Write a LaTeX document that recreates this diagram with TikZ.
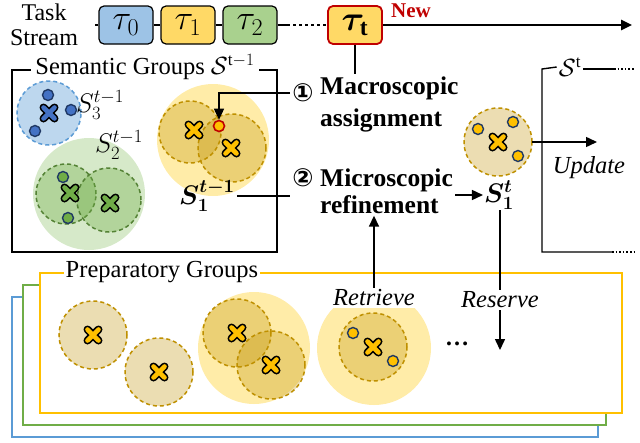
\documentclass[tikz,border=0pt]{standalone}
\usepackage{amsmath,bm,graphicx}
\usepackage{fontspec}
\setmainfont{Liberation Serif}
\newfontfamily\symfont{DejaVu Sans}
\usetikzlibrary{arrows,arrows.meta,positioning,shapes}
\definecolor{tblue}{RGB}{157,195,230}
\definecolor{tyel}{RGB}{255,217,102}
\definecolor{tgreen}{RGB}{169,209,142}
\definecolor{newred}{RGB}{192,0,0}
\definecolor{bline}{RGB}{91,155,213}
\definecolor{bpale}{RGB}{189,215,238}
\definecolor{bdark}{RGB}{68,114,196}
\definecolor{gline}{RGB}{84,130,53}
\definecolor{gmid}{RGB}{112,173,71}
\definecolor{gpale}{RGB}{214,233,201}
\definecolor{yline}{RGB}{191,144,0}
\definecolor{ygold}{RGB}{255,192,0}
\definecolor{ypale}{RGB}{255,236,168}
\definecolor{navy}{RGB}{31,56,100}
\newcommand{\tsk}[1]{\scalebox{1.4}{$#1$}}
\newcommand{\grpname}[1]{\scalebox{1.08}{$#1$}}
\tikzset{
  task/.style={draw,line width=1.2pt,rounded corners=5pt,minimum width=54pt,minimum height=38pt,inner sep=0pt,font=\fontsize{24}{24}\selectfont},
  lbl/.style={font=\fontsize{24.5}{28}\selectfont,inner sep=2pt},
  grp/.style={dash pattern=on 4pt off 3pt,line width=1.5pt},
  tip/.style={-{Triangle[length=11pt,width=10pt]}},
  smp/.style={circle,draw=navy,line width=1.4pt,inner sep=0pt,minimum size=11pt},
  pics/cent/.style={code={
    \draw[line width=8pt,line cap=round] (-5.5,-5.5)--(5.5,5.5) (-5.5,5.5)--(5.5,-5.5);
    \draw[line width=4.6pt,line cap=round,#1] (-5.5,-5.5)--(5.5,5.5) (-5.5,5.5)--(5.5,-5.5);}},
}

\begin{document}
\begin{tikzpicture}[x=1pt,y=-1pt]
	\useasboundingbox (0,0) rectangle (640,442);

	% task stream
	\node[lbl,align=center,font=\fontsize{24}{25}\selectfont] (ts) at (44,25) {Task\\Stream};
	\node[task,fill=tblue] (t0) at (126,25) {\tsk{\tau_0}};
	\node[task,fill=tyel] (t1) at (188,25) {\tsk{\tau_1}};
	\node[task,fill=tgreen] (t2) at (250,25) {\tsk{\tau_2}};
	\node[task,fill=tyel,draw=newred,line width=1.8pt] (tt) at (355,25) {\tsk{\bm{\tau}_{\mathbf{t}}}};
	\node[font=\fontsize{21}{21}\selectfont\bfseries,text=newred] (new) at (411,11) {New};
	\coordinate (sBeg) at (95,25);
	\coordinate (sEnd) at (632,25);
	\coordinate (sDot) at (287,25);
	\draw[line width=2.5pt] (sBeg) -- (t0) -- (t1) -- (t2) -- (sDot);
	\draw[line width=2.5pt,dash pattern=on 2.5pt off 3.5pt] (sDot) -- (tt.west);
	\draw[line width=2.5pt,tip] (tt.east) -- (sEnd);

	% semantic groups
	\draw[line width=1.4pt] (12,70) rectangle (277,252);
	\node[lbl,fill=white,inner xsep=4pt] (sem) at (145,67) {Semantic Groups $\mathcal{S}^{\mathrm{t}-1}$};

	\draw[grp,draw=bline,fill=bpale] (49,113) circle[radius=32pt];
	\pic at (49,113) {cent=bdark};
	\node[smp,fill=bdark] at (48,95) {};
	\node[smp,fill=bdark] at (71,110) {};
	\node[smp,fill=bdark] at (35,131) {};
	\node[lbl] (s3) at (100,105) {\grpname{S_3^{t-1}}};

	\fill[gpale] (89,194) circle[radius=56pt];
	\draw[grp,draw=gline,fill=gmid,fill opacity=.35] (66,194) circle[radius=30pt];
	\draw[grp,draw=gline,fill=gmid,fill opacity=.35] (109,200) circle[radius=32pt];
	\pic at (70,193) {cent=gmid};
	\pic at (110,203) {cent=gmid};
	\node[smp,fill=gmid] at (63,177) {};
	\node[smp,fill=gmid] at (68,218) {};
	\node[lbl] (s2) at (119,145) {\grpname{S_2^{t-1}}};

	\fill[ypale] (213,140) circle[radius=56pt];
	\draw[grp,draw=yline,fill=yline,fill opacity=.3] (190,132) circle[radius=31pt];
	\draw[grp,draw=yline,fill=yline,fill opacity=.3] (232,148) circle[radius=34pt];
	\pic at (194,130) {cent=ygold};
	\pic at (231,148) {cent=ygold};
	\node[smp,fill=ygold,draw=newred,line width=1.6pt] (hit) at (219,126) {};
	\node[lbl] (s1) at (207,196) {\grpname{\bm{S_1^{t-1}}}};

	% two steps
	\node[lbl,font=\symfont\fontsize{25}{25}\selectfont\bfseries] (c1) at (303,93) {①};
	\node[lbl,anchor=west,align=left,font=\fontsize{25.5}{32}\selectfont\bfseries] (macro) at (318,104) {Macroscopic\\assignment};
	\node[lbl,font=\symfont\fontsize{25}{25}\selectfont\bfseries] (c2) at (303,178) {②};
	\node[lbl,anchor=west,align=left,font=\fontsize{25.5}{27}\selectfont\bfseries] (micro) at (318,191) {Microscopic\\refinement};
	\draw[line width=1.5pt] (tt) -- (tt |- macro.north);
	\draw[line width=1.5pt,tip] (c1.west) -| (hit.north);
	\draw[line width=1.5pt] (s1.east) -- (s1.east -| c2.west);

	% refined group
	\node[lbl,inner sep=1pt] (s1n) at (499,195) {\grpname{\bm{S_1^{t}}}};
	\draw[line width=1.5pt,tip] (micro.east |- s1n) -- (s1n.west);
	\draw[grp,draw=yline,fill=yline,fill opacity=.3] (498,142) circle[radius=34pt];
	\pic at (498,142) {cent=ygold};
	\node[smp,fill=ygold] at (478,129) {};
	\node[smp,fill=ygold] at (513,122) {};
	\node[smp,fill=ygold] at (518,156) {};
	\coordinate (upd) at (597,142);
	\draw[line width=1.5pt,tip] (532,142) -- (upd);
	\node[lbl,font=\fontsize{24.5}{28}\selectfont\itshape] (updlbl) at (589,168) {Update};

	% next semantic groups
	\node[lbl] (snew) at (570,67) {$\mathcal{S}^{\mathrm{t}}$};
	\draw[line width=1.4pt] (snew.west) -- (542,69) |- (612,252);
	\draw[line width=1.4pt] (snew.east |- 0,69) -- (614,69);
	\draw[line width=1.6pt,dash pattern=on 1.6pt off 2pt] (614,69) -- (634,69);
	\draw[line width=1.6pt,dash pattern=on 1.6pt off 2pt] (612,252) -- (634,252);

	% preparatory groups
	\draw[line width=1.5pt,draw=bline,fill=white] (12,297) rectangle (598,437);
	\draw[line width=1.5pt,draw=gmid,fill=white] (23,285) rectangle (606,425);
	\draw[line width=1.5pt,draw=ygold,fill=white] (40,273) rectangle (622,413);
	\node[lbl,fill=white] (prep) at (162,272) {Preparatory Groups};

	\draw[grp,draw=yline,fill=yline,fill opacity=.3] (93,335) circle[radius=34pt];
	\pic at (93,335) {cent=ygold};
	\draw[grp,draw=yline,fill=yline,fill opacity=.3] (159,372) circle[radius=34pt];
	\pic at (159,372) {cent=ygold};

	\fill[ypale] (254,348) circle[radius=56pt];
	\draw[grp,draw=yline,fill=yline,fill opacity=.3] (237,333) circle[radius=34pt];
	\draw[grp,draw=yline,fill=yline,fill opacity=.3] (271,365) circle[radius=34pt];
	\pic at (237,333) {cent=ygold};
	\pic at (271,365) {cent=ygold};

	\fill[ypale] (374,348) circle[radius=57pt];
	\draw[grp,draw=yline,fill=yline,fill opacity=.3] (373,347) circle[radius=34pt];
	\pic at (373,347) {cent=ygold};
	\node[smp,fill=ygold] at (353,333) {};
	\node[smp,fill=ygold] at (393,361) {};
	\node[font=\fontsize{24}{24}\selectfont\bfseries] (more) at (457,344) {\dots};

	\node[lbl,fill=white,font=\fontsize{24.5}{28}\selectfont\itshape] (ret) at (374,298) {Retrieve};
	\node[lbl,fill=white,font=\fontsize{24.5}{28}\selectfont\itshape] (res) at (500,300) {Reserve};
	\coordinate (resEnd) at (500,350);
	\draw[line width=1.5pt,tip] (ret) -- (ret |- micro.south);
	\draw[line width=1.5pt] (s1n.south -| res) -- (res);
	\draw[line width=1.5pt,tip] (res) -- (resEnd);

\end{tikzpicture}
\end{document}
